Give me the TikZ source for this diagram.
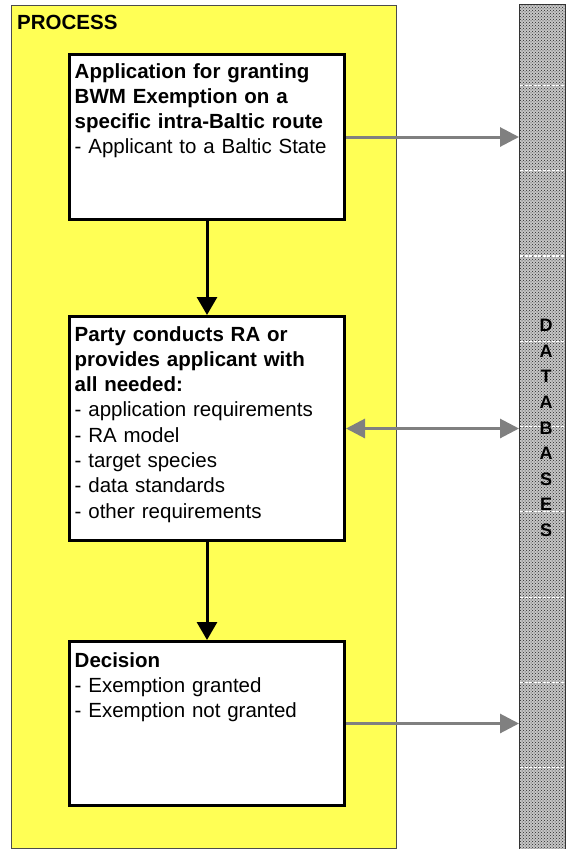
\documentclass[tikz,border=0pt]{standalone}
\usepackage{fontspec}
\setmainfont{Liberation Sans}
\usetikzlibrary{arrows.meta,patterns}
\definecolor{procyellow}{HTML}{FFFF55}
\definecolor{arrowgray}{HTML}{808080}
\begin{document}
\begin{tikzpicture}[x=1pt,y=-1pt,
  procbg/.style={draw=black!70, line width=0.8pt, fill=procyellow, inner sep=0, anchor=north west},
  wbox/.style={draw=black, line width=3pt, fill=white, inner sep=0, anchor=north west, minimum width=275},
  txt/.style={anchor=base west, inner sep=0, text width=268pt, align=left, font=\fontsize{20.5}{25.3}\selectfont},
  dbstyle/.style={draw=black!80, line width=0.8pt, preaction={fill=gray!45}, pattern=crosshatch dots, pattern color=black!85, inner sep=0, anchor=north west},
  dbline/.style={white, line width=1.2pt, dash pattern=on 3pt off 1.5pt},
  blk/.style={draw=black, line width=3pt, -{Triangle[length=18pt,width=20pt]}},
  gry/.style={draw=arrowgray, line width=3pt, -{Triangle[length=19pt,width=19pt]}},
  gry2/.style={draw=arrowgray, line width=3pt, {Triangle[length=19pt,width=19pt]}-{Triangle[length=19pt,width=19pt]}}
]
\useasboundingbox (0,0) rectangle (566,849);
% process background
\node[procbg, minimum width=385, minimum height=843] (proc) at (11,5) {};
\node[anchor=base west, inner sep=0, font=\bfseries\fontsize{20.5}{24}\selectfont] (ptitle) at (17,29) {PROCESS};
% databases column
\node[dbstyle, minimum width=46, minimum height=845] (db) at (519,4) {};
\foreach \k in {1,...,9} \draw[dbline] (520,{85.3*\k}) -- (564,{85.3*\k});
\node[inner sep=0, align=center, font=\bfseries\fontsize{18}{25.6}\selectfont] (dbt) at (546,428) {D\\A\\T\\A\\B\\A\\S\\E\\S};
% boxes
\node[wbox, minimum height=165] (b1) at (68,53) {};
\node[wbox, minimum height=224] (b2) at (68,315) {};
\node[wbox, minimum height=164] (b3) at (68,640) {};
\node[txt] (t1) at (74.5,78) {\textbf{Application for granting}\\\textbf{BWM Exemption on a}\\\textbf{specific intra-Baltic route}\\- Applicant to a Baltic State};
\node[txt] (t2) at (74.5,341) {\textbf{Party conducts RA or}\\\textbf{provides applicant with}\\\textbf{all needed:}\\- application requirements\\- RA model\\- target species\\- data standards\\- other requirements};
\node[txt] (t3) at (74.5,667) {\textbf{Decision}\\- Exemption granted\\- Exemption not granted};
% connectors
\draw[blk] (b1.south) -- (b2.north);
\draw[blk] (b2.south) -- (b3.north);
\draw[gry] (b1.east) -- (b1.east -| db.west);
\draw[gry2] (b2.east) -- (b2.east -| db.west);
\draw[gry] (b3.east) -- (b3.east -| db.west);
\end{tikzpicture}
\end{document}
